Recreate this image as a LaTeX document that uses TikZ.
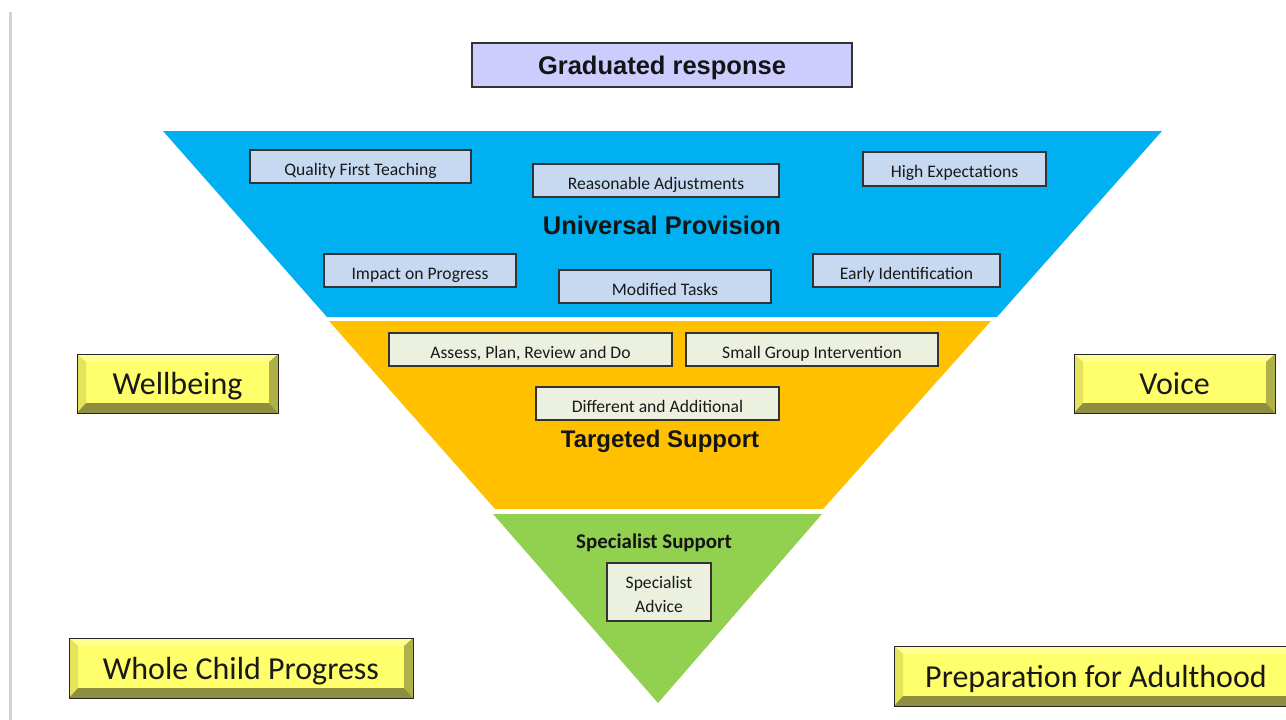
\documentclass[tikz,border=0pt]{standalone}
\usepackage{fontspec}
\setmainfont{Carlito}
\newfontfamily\arialfont{Liberation Sans}
\definecolor{cblue}{HTML}{00B0F0}
\definecolor{corange}{HTML}{FFC000}
\definecolor{cgreen}{HTML}{92D050}
\definecolor{lblue}{HTML}{C6D9F1}
\definecolor{lgreen}{HTML}{EBF1DE}
\definecolor{lav}{HTML}{CCCCFF}
\definecolor{ymain}{HTML}{FFFF6B}
\definecolor{ytop}{HTML}{FFFF90}
\definecolor{yleft}{HTML}{E3E35C}
\definecolor{yright}{HTML}{B0B048}
\definecolor{ybot}{HTML}{8E8E40}
\definecolor{bord}{HTML}{333333}
\definecolor{gline}{HTML}{D3D3D3}
\tikzset{
  smallbox/.style={draw=bord, line width=1.2pt, inner sep=0pt, text height=17pt, text depth=0pt, font=\fontsize{17.6}{24}\selectfont, text=black!90},
  bluebox/.style={smallbox, fill=lblue},
  greenbox/.style={smallbox, fill=lgreen},
  bigtitle/.style={font=\arialfont\bfseries\fontsize{25.5}{28}\selectfont, text=black!92, inner sep=0pt},
  ybox/.style={draw=black!85, line width=1pt, fill=ymain, inner sep=0pt, text depth=0pt,
    font=\fontsize{32}{36}\selectfont, text=black!90,
    path picture={
      \coordinate (NW) at (path picture bounding box.north west);
      \coordinate (NE) at (path picture bounding box.north east);
      \coordinate (SW) at (path picture bounding box.south west);
      \coordinate (SE) at (path picture bounding box.south east);
      \fill[ytop] (NW) -- (NE) -- ([xshift=-9pt,yshift=-8pt]NE) -- ([xshift=9pt,yshift=-8pt]NW) -- cycle;
      \fill[yleft] (NW) -- ([xshift=9pt,yshift=-8pt]NW) -- ([xshift=9pt,yshift=10pt]SW) -- (SW) -- cycle;
      \fill[yright] (NE) -- ([xshift=-9pt,yshift=-8pt]NE) -- ([xshift=-9pt,yshift=10pt]SE) -- (SE) -- cycle;
      \fill[ybot] (SW) -- ([xshift=9pt,yshift=10pt]SW) -- ([xshift=-9pt,yshift=10pt]SE) -- (SE) -- cycle;
    }},
}
\begin{document}
\begin{tikzpicture}[x=1pt,y=-1pt]
\useasboundingbox (0,0) rectangle (1286,720);
\fill[white] (0,0) rectangle (1286,720);
% left grey rule
\fill[gline] (8.5,12) rectangle (11.5,720);
% pyramid layers
\fill[cblue] (163,131) -- (1162,131) -- (997,317) -- (327,317) -- cycle;
\fill[corange] (329,321) -- (991,321) -- (823,509) -- (495,509) -- cycle;
\fill[cgreen] (493,514) -- (822,514) -- (658,703) -- cycle;
% title
\node[draw=bord, line width=1.2pt, fill=lav, minimum width=380pt, minimum height=44pt, bigtitle, text depth=0pt] (title) at (662,65) {Graduated response};
% universal provision
\node[bluebox, minimum width=221pt, minimum height=33pt] (qft) at (360.5,166.5) {Quality First Teaching};
\node[bluebox, minimum width=246pt, minimum height=33pt] (ra) at (656,180.5) {Reasonable Adjustments};
\node[bluebox, minimum width=183pt, minimum height=34pt] (he) at (954.5,169) {High Expectations};
\node[bigtitle] (up) at (662,225) {Universal Provision};
\node[bluebox, minimum width=192pt, minimum height=33pt] (iop) at (420,270.5) {Impact on Progress};
\node[bluebox, minimum width=212pt, minimum height=33pt] (mt) at (665,286.5) {Modified Tasks};
\node[bluebox, minimum width=187pt, minimum height=33pt] (ei) at (906.5,270.5) {Early Identification};
% targeted support
\node[greenbox, minimum width=283pt, minimum height=33pt] (aprd) at (530.5,349.5) {Assess, Plan, Review and Do};
\node[greenbox, minimum width=252pt, minimum height=33pt] (sgi) at (812,349.5) {Small Group Intervention};
\node[greenbox, minimum width=243pt, minimum height=33pt] (da) at (657.5,403.5) {Different and Additional};
\node[bigtitle, font=\arialfont\bfseries\fontsize{24}{28}\selectfont] (ts) at (660,441.5) {Targeted Support};
% specialist support
\node[font=\bfseries\fontsize{20.9}{24}\selectfont, text=black!92, inner sep=0pt] (ss) at (654,542.5) {Specialist Support};
\node[greenbox, text height=41pt, align=center, minimum width=104pt, minimum height=58pt] (sa) at (659,592) {Specialist\\Advice};
% outer yellow boxes
\node[ybox, minimum width=201pt, minimum height=59pt] (wb) at (177.5,383.5) {Wellbeing};
\node[ybox, minimum width=201pt, minimum height=59pt] (vo) at (1174.5,383.5) {Voice};
\node[ybox, minimum width=344pt, minimum height=60pt] (wcp) at (241,668) {Whole Child Progress};
\node[ybox, minimum width=404pt, minimum height=60pt] (pfa) at (1096,676) {Preparation for Adulthood};
\end{tikzpicture}
\end{document}
